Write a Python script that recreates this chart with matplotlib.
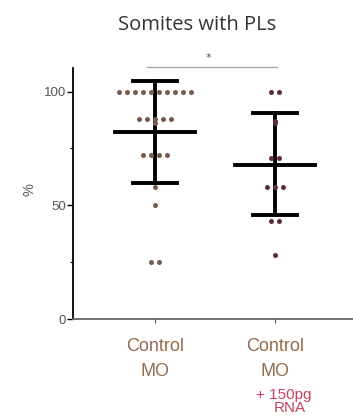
import numpy as np
import matplotlib
matplotlib.use("Agg")
import matplotlib.pyplot as plt

# data
groups = ["Control\nMO", "Control\nMO"]
extra_lab = "+ 150pg\nRNA"
ctrl_vals = [100]*10 + [88]*5 + [86] + [72]*4 + [58, 50, 25, 25]
rna_vals = [100, 100, 87, 86, 71, 71, 58, 58, 58, 43, 43, 28]
means = [82.4, 67.8]
sd_up = [104.8, 90.6]
sd_lo = [59.8, 45.8]
dot_cols = ["#7a5a4a", "#5e2a44"]
lab_col = "#946a4c"
extra_col = "#c8405a"


def spread(vals, step=0.066):
    # lay equal values side by side like a scatter dot plot
    vals = np.array(vals, dtype=float)
    xs = np.zeros(len(vals))
    for v in np.unique(vals):
        idx = np.where(vals == v)[0]
        n = len(idx)
        xs[idx] = (np.arange(n) - (n - 1) / 2) * step
    return xs


fig = plt.figure(figsize=(3.53, 4.17), dpi=100)
ax = fig.add_axes([0.207, 0.235, 0.793, 0.602])

for i, vals in enumerate([ctrl_vals, rna_vals]):
    pos = i + 1
    ax.plot(pos + spread(vals), vals, "o", ms=3.6, color=dot_cols[i],
            mec="none", zorder=3)
    ax.plot([pos, pos], [sd_lo[i], sd_up[i]], color="black", lw=2.8, zorder=2)
    ax.plot([pos - 0.33, pos + 0.33], [means[i]]*2, color="black", lw=2.8, zorder=2)
    ax.plot([pos - 0.18, pos + 0.18], [sd_up[i]]*2, color="black", lw=2.8, zorder=2)
    ax.plot([pos - 0.18, pos + 0.18], [sd_lo[i]]*2, color="black", lw=2.8, zorder=2)

ax.set_xlim(0.317, 2.65)
ax.set_ylim(0, 110.4)
ax.set_yticks([0, 50, 100])
ax.set_yticks([25, 75], minor=True)
ax.tick_params(axis="y", which="major", length=4, width=1, labelsize=9.5, pad=1,
               labelcolor="#555555")
ax.tick_params(axis="y", which="minor", length=2.5, width=0.8)
for t in ax.get_yticklabels():
    t.set_family("Liberation Sans")
ax.set_xticks([1, 2])
ax.set_xticklabels(["", ""])
ax.tick_params(axis="x", length=3, width=0.8, color="#555555")
for s in ["top", "right"]:
    ax.spines[s].set_visible(False)
ax.spines["left"].set_linewidth(1.3)
ax.spines["bottom"].set_linewidth(1.3)
ax.spines["bottom"].set_color("#666666")

# category labels, one line at a time
for i, g in enumerate(groups):
    for k, line in enumerate(g.split("\n")):
        ax.text(i + 1, -12.3 - 11 * k, line, ha="center", va="center",
                fontsize=13, family="Liberation Sans", color=lab_col,
                clip_on=False)
for k, line in enumerate(extra_lab.split("\n")):
    ax.text(2.07 + 0.05 * k, -33.3 - 5.8 * k, line, ha="center", va="center",
            fontsize=11, family="Liberation Sans", color=extra_col,
            clip_on=False)

fig.text(30 / 353, 1 - 190 / 417, "%", rotation=90, ha="center", va="center",
         fontsize=10.5, color="#555555", family="Liberation Sans")

# significance bar
ax.plot([0.934, 2.017], [110.9, 110.9], color="#aaaaaa", lw=1, clip_on=False)
ax.text(1.442, 114.8, "*", ha="center", va="center", fontsize=8, color="#555555")

fig.text(197 / 353, 1 - 25 / 417, "Somites with PLs", ha="center", va="center",
         fontsize=14.5, family="Open Sans", color="#333333")

fig.savefig("out.png", dpi=100)
